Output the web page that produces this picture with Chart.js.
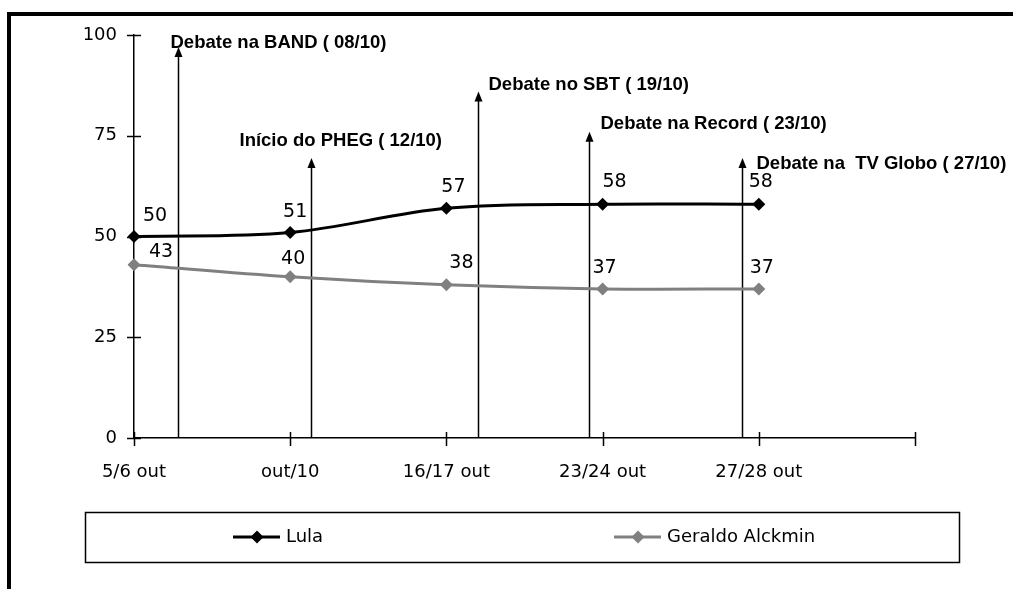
<!DOCTYPE html>
<html>
<head>
<meta charset="utf-8">
<script src="https://cdn.jsdelivr.net/npm/chart.js@4.4.1/dist/chart.umd.min.js"></script>
<style>
  html, body { margin: 0; padding: 0; background: #fff; }
  #wrap { position: relative; width: 1013px; height: 589px; }
</style>
</head>
<body>
<div id="wrap"><canvas id="chart"></canvas></div>
<script>
// poll values per survey date
var categories = ['5/6 out', 'out/10', '16/17 out', '23/24 out', '27/28 out', ''];
var lula = [50, 51, 57, 58, 58];
var alckmin = [43, 40, 38, 37, 37];
var yTicks = [0, 25, 50, 75, 100];

// events: position on the category axis (fractional index) and arrow top (value)
var eventNames = [
	'Debate na BAND ( 08/10)',
	'Início do PHEG ( 12/10)',
	'Debate no SBT ( 19/10)',
	'Debate na Record ( 23/10)',
	'Debate na  TV Globo ( 27/10)'
];
var eventAt = [0.28, 1.13, 2.2, 2.91, 3.89];
var eventTop = [97, 69.5, 86, 76, 69.5];

(function () {
	'use strict';

	var FONT = '"DejaVu Sans", Verdana, sans-serif';
	var BOLD = 'bold 18.5px "Liberation Sans", Arial, sans-serif';

	// where each event caption sits relative to its arrow tip
	var captionShift = [ [ -8, -4 ], [ -72, -17 ], [ 10, -7 ], [ 11, -8 ], [ 14, 6 ] ];
	// where each value label sits relative to its point
	var labelShift = [
		[ [ 21, -20 ], [ 5, -20 ], [ 7, -21 ], [ 12, -22 ], [ 2, -22 ] ],
		[ [ 27, -13 ], [ 3, -18 ], [ 15, -22 ], [ 2, -21 ], [ 3, -21 ] ]
	];

	function diamond( ctx, x, y, r, color ) {
		ctx.fillStyle = color;
		ctx.beginPath();
		ctx.moveTo( x, y - r );
		ctx.lineTo( x + r, y );
		ctx.lineTo( x, y + r );
		ctx.lineTo( x - r, y );
		ctx.closePath();
		ctx.fill();
	}

	var decor = {
		id: 'decor',
		beforeDatasetsDraw: function ( chart ) {
			var ctx = chart.ctx;
			var xs = chart.scales.x;
			var ys = chart.scales.y;
			var base = ys.getPixelForValue( 0 );
			ctx.save();
			ctx.strokeStyle = '#000';
			ctx.fillStyle = '#000';
			ctx.lineWidth = 1.5;
			eventNames.forEach( function ( name, i ) {
				var x = Math.round( xs.getPixelForValue( eventAt[ i ] ) ) + 0.5;
				var top = ys.getPixelForValue( eventTop[ i ] );
				ctx.beginPath();
				ctx.moveTo( x, base );
				ctx.lineTo( x, top + 8 );
				ctx.stroke();
				ctx.beginPath();
				ctx.moveTo( x, top );
				ctx.lineTo( x - 4, top + 10 );
				ctx.lineTo( x + 4, top + 10 );
				ctx.closePath();
				ctx.fill();
				ctx.font = BOLD;
				ctx.textAlign = 'left';
				ctx.textBaseline = 'middle';
				ctx.fillText( name, x + captionShift[ i ][ 0 ], top + captionShift[ i ][ 1 ] );
			} );
			ctx.restore();
		},
		afterDraw: function ( chart ) {
			var ctx = chart.ctx;
			var xs = chart.scales.x;
			var ys = chart.scales.y;
			var area = chart.chartArea;
			ctx.save();

			// outer frame (top and left only)
			ctx.fillStyle = '#000';
			ctx.fillRect( 7, 12, 1006, 4 );
			ctx.fillRect( 7, 12, 4, 577 );

			// crossing tick marks
			ctx.strokeStyle = '#000';
			ctx.lineWidth = 1.5;
			ys.ticks.forEach( function ( t ) {
				var y = Math.round( ys.getPixelForValue( t.value ) ) + 0.5;
				ctx.beginPath();
				ctx.moveTo( area.left - 7, y );
				ctx.lineTo( area.left + 7, y );
				ctx.stroke();
			} );
			categories.forEach( function ( c, i ) {
				var x = Math.round( xs.getPixelForValue( i ) ) + 0.5;
				ctx.beginPath();
				ctx.moveTo( x, area.bottom - 6 );
				ctx.lineTo( x, area.bottom + 8 );
				ctx.stroke();
			} );

			// value labels
			ctx.font = '19px ' + FONT;
			ctx.fillStyle = '#000';
			ctx.textAlign = 'center';
			ctx.textBaseline = 'middle';
			chart.data.datasets.forEach( function ( ds, d ) {
				chart.getDatasetMeta( d ).data.forEach( function ( pt, i ) {
					var s = labelShift[ d ][ i ];
					ctx.fillText( String( ds.data[ i ] ), pt.x + s[ 0 ], pt.y + s[ 1 ] );
				} );
			} );

			// legend box
			ctx.lineWidth = 1.5;
			ctx.strokeRect( 85.5, 512.5, 874, 50 );
			var items = [ 233, 614 ];
			ctx.font = '18px ' + FONT;
			ctx.textAlign = 'left';
			chart.data.datasets.forEach( function ( ds, d ) {
				var lx = items[ d ];
				var ly = 537;
				ctx.strokeStyle = ds.borderColor;
				ctx.lineWidth = 3;
				ctx.beginPath();
				ctx.moveTo( lx, ly );
				ctx.lineTo( lx + 47, ly );
				ctx.stroke();
				diamond( ctx, lx + 24, ly, 6.5, ds.borderColor );
				ctx.fillStyle = '#000';
				ctx.fillText( ds.label, lx + 53, ly );
			} );
			ctx.restore();
		}
	};

	new Chart( document.getElementById( 'chart' ), {
		type: 'line',
		data: {
			labels: categories,
			datasets: [ {
				label: 'Lula',
				data: lula,
				borderColor: '#000000',
				backgroundColor: '#000000',
				borderWidth: 3,
				pointStyle: 'rectRot',
				pointRadius: 6.5,
				pointBorderWidth: 0,
				tension: 0.35,
			}, {
				label: 'Geraldo Alckmin',
				data: alckmin,
				borderColor: '#808080',
				backgroundColor: '#808080',
				borderWidth: 3,
				pointStyle: 'rectRot',
				pointRadius: 6.5,
				pointBorderWidth: 0,
				tension: 0.35,
			} ],
		},
		options: {
			responsive: true,
			maintainAspectRatio: false,
			animation: false,
			layout: { padding: { left: 0, right: 98, top: 35, bottom: 0 } },
			plugins: { legend: { display: false }, tooltip: { enabled: false } },
			scales: {
				x: {
					type: 'category',
					offset: false,
					grid: { display: false, drawTicks: false },
					border: { display: true, color: '#000', width: 1.5 },
					ticks: {
						autoSkip: false,
						maxRotation: 0,
						padding: 24,
						color: '#000',
						font: { family: FONT, size: 18 },
					},
					afterFit: function ( s ) { s.height = 151; },
				},
				y: {
					min: 0,
					max: 100,
					grid: { display: false, drawTicks: false },
					border: { display: true, color: '#000', width: 1.5 },
					ticks: {
						padding: 17,
						color: '#000',
						font: { family: FONT, size: 18 },
					},
					afterBuildTicks: function ( s ) {
						s.ticks = yTicks.map( function ( v ) { return { value: v }; } );
					},
					afterFit: function ( s ) { s.width = 134; },
				},
			},
		},
		plugins: [ decor ],
	} );
}() );
</script>
</body>
</html>
